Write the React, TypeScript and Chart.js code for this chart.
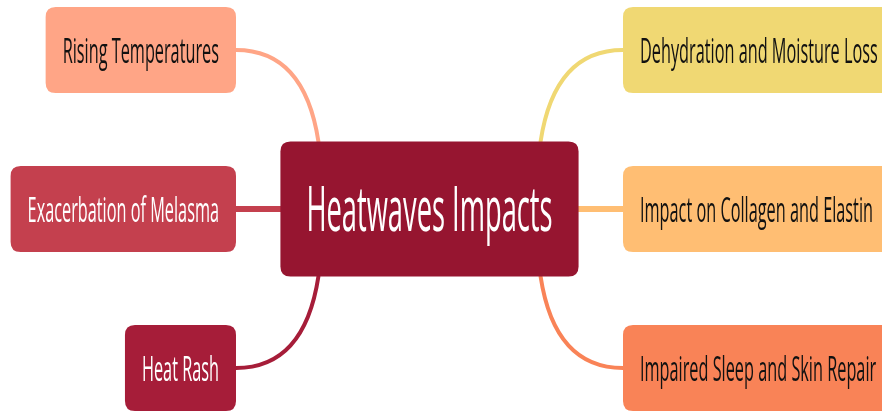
import React, { useEffect, useRef } from "react";
import { Chart, registerables } from "chart.js";

Chart.register(...registerables);

// ---- data ----
const centerTopic = "Heatwaves Impacts";
const branchLabels = [
  "Rising Temperatures",
  "Exacerbation of Melasma",
  "Heat Rash",
  "Dehydration and Moisture Loss",
  "Impact on Collagen and Elastin",
  "Impaired Sleep and Skin Repair",
];
// side: -1 = left of the central topic, 1 = right
const branchSide = [-1, -1, -1, 1, 1, 1];
// row index (0 = top)
const branchRow = [0, 1, 2, 0, 1, 2];
const centerSide = 0;
const centerRow = 1;

const branchColors = ["#FFA586", "#C4404E", "#A61D39", "#F0D873", "#FFBE73", "#F98357"];
const branchTextColors = ["#111111", "#FFFFFF", "#FFFFFF", "#111111", "#111111", "#111111"];
const centerColor = "#961530";

const FONT = '"Open Sans", "Noto Sans", sans-serif';
const SX = 0.465; // horizontal text compression (branches)
const SXC = 0.44; // horizontal text compression (central topic)

function roundRect(ctx: CanvasRenderingContext2D, x: number, y: number, w: number, h: number, r: number) {
  ctx.beginPath();
  ctx.moveTo(x + r, y);
  ctx.lineTo(x + w - r, y);
  ctx.quadraticCurveTo(x + w, y, x + w, y + r);
  ctx.lineTo(x + w, y + h - r);
  ctx.quadraticCurveTo(x + w, y + h, x + w - r, y + h);
  ctx.lineTo(x + r, y + h);
  ctx.quadraticCurveTo(x, y + h, x, y + h - r);
  ctx.lineTo(x, y + r);
  ctx.quadraticCurveTo(x, y, x + r, y);
  ctx.closePath();
}

const mindMapPlugin = {
  id: "mindMap",
  afterDatasetsDraw(chart: any) {
    const ctx: CanvasRenderingContext2D = chart.ctx;
    const xs = chart.scales.x;
    const ys = chart.scales.y;
    const cx = xs.getPixelForValue(centerSide);
    const cy = ys.getPixelForValue(centerRow);

    // central box size from its text
    const cFontSize = 62;
    ctx.save();
    ctx.font = `${cFontSize}px ${FONT}`;
    const cTextW = ctx.measureText(centerTopic).width * SXC;
    ctx.restore();
    const cW = cTextW + 52;
    const cH = 135;
    const cLeft = cx - cW / 2;
    const cRight = cx + cW / 2;
    const cTop = cy - cH / 2;
    const cBottom = cy + cH / 2;

    const bFontSize = 35;
    const bH = 86;
    const pad = 17;

    // connectors
    branchLabels.forEach((_, i) => {
      const ax = xs.getPixelForValue(branchSide[i]);
      const ay = ys.getPixelForValue(branchRow[i]);
      ctx.save();
      ctx.strokeStyle = branchColors[i];
      ctx.lineCap = "round";
      ctx.beginPath();
      if (branchRow[i] === centerRow) {
        ctx.lineWidth = 6;
        const ex = branchSide[i] < 0 ? cLeft : cRight;
        ctx.moveTo(ax, ay);
        ctx.lineTo(ex, ay);
      } else {
        ctx.lineWidth = 4;
        const ex = branchSide[i] < 0 ? cLeft + 38 : cRight - 38;
        const ey = branchRow[i] < centerRow ? cTop : cBottom;
        const ctrlX = branchSide[i] < 0 ? ex - 14 : ex + 14;
        ctx.moveTo(ax, ay);
        ctx.quadraticCurveTo(ctrlX, ay, ex, ey);
      }
      ctx.stroke();
      ctx.restore();
    });

    // branch nodes
    branchLabels.forEach((label, i) => {
      const ax = xs.getPixelForValue(branchSide[i]);
      const ay = ys.getPixelForValue(branchRow[i]);
      ctx.save();
      ctx.font = `${bFontSize}px ${FONT}`;
      const tw = ctx.measureText(label).width * SX;
      const bw = tw + pad * 2;
      const left = branchSide[i] < 0 ? ax - bw : ax;
      ctx.fillStyle = branchColors[i];
      roundRect(ctx, left, ay - bH / 2, bw, bH, 10);
      ctx.fill();
      ctx.fillStyle = branchTextColors[i];
      ctx.textAlign = "left";
      ctx.textBaseline = "alphabetic";
      ctx.translate(left + pad, ay + 13);
      ctx.scale(SX, 1);
      ctx.fillText(label, 0, 0);
      ctx.restore();
    });

    // central node
    ctx.save();
    ctx.fillStyle = centerColor;
    roundRect(ctx, cLeft, cTop, cW, cH, 10);
    ctx.fill();
    ctx.fillStyle = "#FFFFFF";
    ctx.font = `${cFontSize}px ${FONT}`;
    ctx.textAlign = "center";
    ctx.textBaseline = "alphabetic";
    ctx.translate(cx, cy + 22);
    ctx.scale(SXC, 1);
    ctx.fillText(centerTopic, 0, 0);
    ctx.restore();
  },
};

export default function App() {
  const ref = useRef<HTMLCanvasElement | null>(null);

  useEffect(() => {
    document.body.style.margin = "0";
    let chart: Chart | null = null;
    let cancelled = false;
    const make = () => {
      if (cancelled || !ref.current) return;
      chart = new Chart(ref.current, {
        type: "scatter",
        data: {
          datasets: [
            {
              label: "branches",
              data: branchLabels.map((_, i) => ({ x: branchSide[i], y: branchRow[i] })),
              pointRadius: 0,
            },
            {
              label: "center",
              data: [{ x: centerSide, y: centerRow }],
              pointRadius: 0,
            },
          ],
        },
        options: {
          responsive: false,
          animation: false,
          events: [],
          layout: { padding: 0 },
          plugins: { legend: { display: false }, tooltip: { enabled: false } },
          scales: {
            x: { type: "linear", display: false, min: -2.2196, max: 2.3385 },
            y: { type: "linear", display: false, reverse: true, min: -0.3145, max: 2.2767 },
          },
        },
        plugins: [mindMapPlugin],
      });
    };
    const fonts: any = (document as any).fonts;
    if (fonts && fonts.load) {
      Promise.all([fonts.load(`35px "Open Sans"`), fonts.load(`62px "Open Sans"`)])
        .catch(() => {})
        .then(make);
    } else {
      make();
    }
    return () => {
      cancelled = true;
      if (chart) chart.destroy();
    };
  }, []);

  return (
    <div style={{ width: 882, height: 412, background: "#fff" }}>
      <canvas ref={ref} width={882} height={412} />
    </div>
  );
}
